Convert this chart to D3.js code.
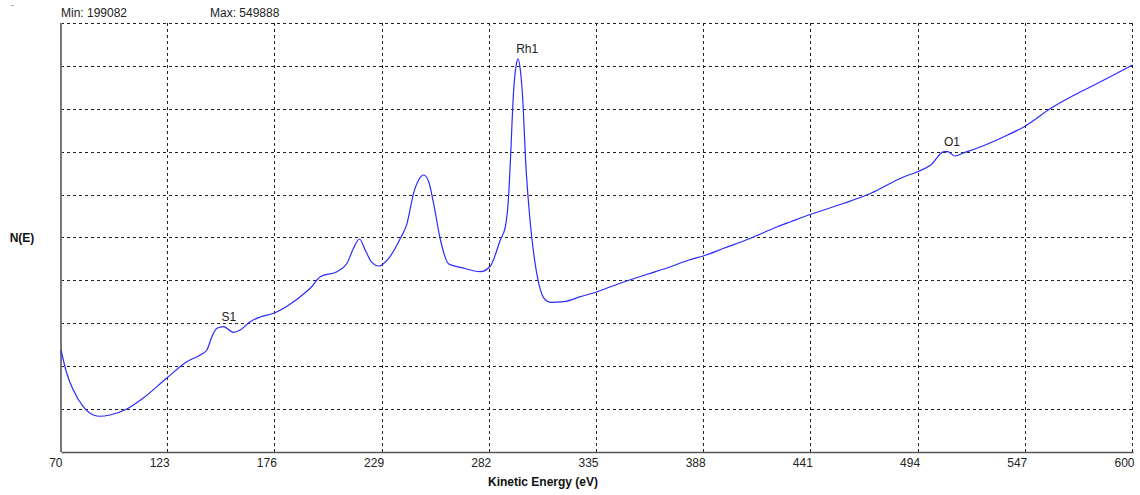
<!DOCTYPE html>
<meta charset="utf-8">
<style>
  body { margin: 0; background: white; }
  text { font-family: "Liberation Sans", Arial, sans-serif; font-size: 12px; fill: #222; }
  .axisTitle { font-weight: bold; fill: #111; }
  .grid { stroke: #222; stroke-width: 1; stroke-dasharray: 3,3; shape-rendering: crispEdges; }
</style>
<body>
<script src="https://cdn.jsdelivr.net/npm/d3@7"></script>
<script>

// data
const energy = [70, 72.8, 76.1, 81.0, 86.0, 89.3, 94.2, 102.5, 110.7, 122.3, 132.2, 138.8, 142.1, 144.6,
  147.1, 150.3, 155.3, 158.6, 163.5, 168.5, 175.1, 185.0, 188.3, 193.2, 198.2, 206.4, 211.4, 214.6,
  217.6, 220.4, 223.8, 227.0, 232.0, 237.8, 241.1, 244.3, 246.8, 249.3, 251.8, 254.2, 257.6, 261.7,
  267.5, 277.4, 282.3, 287.2, 289.7, 291.4, 292.2, 293.8, 295.2, 296.0, 297.1, 298.5, 299.6, 301.3,
  302.9, 303.7, 306.2, 309.5, 312.0, 318.6, 326.8, 335.1, 341.7, 350.0, 359.8, 371.4, 380.4, 387.9,
  397.7, 410.9, 424.2, 430.8, 440.7, 457.1, 470.4, 486.8, 493.5, 500.0, 506.6, 508.3, 511.9, 516.5,
  524.8, 538.0, 546.2, 559.4, 571.0, 582.5, 599.8]
const counts = [264094, 241524, 224843, 208456, 200311, 199082, 200311, 206199, 216993, 236618, 252613,
  259187, 264094, 277145, 285387, 286957, 281462, 283719, 291864, 296476, 300106, 311489, 316395,
  324638, 336021, 340927, 349170, 363889, 373015, 362221, 349759, 346520, 354076, 373702, 388421,
  417859, 430910, 435816, 429241, 408046, 372033, 348483, 345245, 340927, 346520, 372033, 385084,
  418153, 450535, 519224, 545424, 549888, 538849, 502837, 453773, 404710, 372033, 358982, 329544,
  313157, 310900, 311489, 316395, 321302, 326208, 332096, 338376, 345834, 352408, 356628, 363889,
  373702, 385084, 389991, 397252, 408046, 417859, 434148, 439054, 445629, 458680, 458680, 454460,
  457698, 463586, 475067, 483211, 501267, 514318, 525798, 543756]

const minCount = 199082,
      maxCount = 549888

const xTicks = [70, 123, 176, 229, 282, 335, 388, 441, 494, 547, 600]

const peakNames = ["S1", "Rh1", "O1"],
      peakEnergy = [153, 300.5, 510.5],
      peakCount = [286957, 549888, 458680]

const margin = {top: 23, right: 7, bottom: 43, left: 61},
      width = 1140 - margin.left - margin.right,
      height = 495 - margin.top - margin.bottom

const svg = d3.select("body").append("svg")
    .attr("width", 1140)
    .attr("height", 495)

const g = svg.append("g")
    .attr("transform", `translate(${margin.left}, ${margin.top})`)

const span = maxCount - minCount
const x = d3.scaleLinear().domain([70, 600]).range([0, width])
const y = d3.scaleLinear().domain([minCount - 0.1 * span, maxCount + 0.1 * span]).range([height, 0])

// grid, 10 divisions each way
g.selectAll(".vgrid")
  .data(xTicks.slice(1))
  .enter().append("line")
    .attr("class", "grid")
    .attr("x1", d => Math.round(x(d)) - 0.5)
    .attr("x2", d => Math.round(x(d)) - 0.5)
    .attr("y1", 0)
    .attr("y2", height)

const yLines = d3.range(1, 11).map(i => y.domain()[0] + i * (y.domain()[1] - y.domain()[0]) / 10)
g.selectAll(".hgrid")
  .data(yLines)
  .enter().append("line")
    .attr("class", "grid")
    .attr("x1", 0)
    .attr("x2", width)
    .attr("y1", d => Math.round(y(d)) + 0.5)
    .attr("y2", d => Math.round(y(d)) + 0.5)

// axes, labels end at their grid line
const xAxis = g.append("g")
  .attr("transform", `translate(0, ${height})`)
  .call(d3.axisBottom(x).tickValues(xTicks).tickSize(0).tickPadding(6))
xAxis.select(".domain").attr("stroke", "#555").attr("stroke-width", 1.5)
xAxis.selectAll("text")
  .attr("text-anchor", "end")
  .attr("dx", 1)
  .style("font-family", '"Liberation Sans", Arial, sans-serif')
  .style("font-size", "12px")
  .attr("fill", "#222")

g.append("line")
  .attr("x1", 0).attr("x2", 0)
  .attr("y1", 0).attr("y2", height)
  .attr("stroke", "#777")
  .attr("stroke-width", 2)

// spectrum
const line = d3.line()
  .x((d, i) => x(energy[i]))
  .y(d => y(d))
  .curve(d3.curveMonotoneX)

g.append("path")
  .datum(counts)
  .attr("d", line)
  .attr("fill", "none")
  .attr("stroke", "#2a2aff")
  .attr("stroke-width", 1.2)

// peak labels
g.selectAll(".peak")
  .data(peakNames)
  .enter().append("text")
    .attr("x", (d, i) => x(peakEnergy[i]))
    .attr("y", (d, i) => y(peakCount[i]) - 6)
    .attr("text-anchor", "middle")
    .text(d => d)

// titles
svg.append("text")
  .attr("x", 61).attr("y", 17)
  .text(`Min: ${minCount}`)
svg.append("text")
  .attr("x", 210).attr("y", 17)
  .text(`Max: ${maxCount}`)

svg.append("text")
  .attr("class", "axisTitle")
  .attr("x", 22).attr("y", 242)
  .attr("text-anchor", "middle")
  .text("N(E)")

svg.append("text")
  .attr("class", "axisTitle")
  .attr("x", 543).attr("y", 486)
  .attr("text-anchor", "middle")
  .text("Kinetic Energy (eV)")

svg.append("line")
  .attr("x1", 11).attr("x2", 14)
  .attr("y1", 5.5).attr("y2", 5.5)
  .attr("stroke", "#aaa")

</script>
</body>
